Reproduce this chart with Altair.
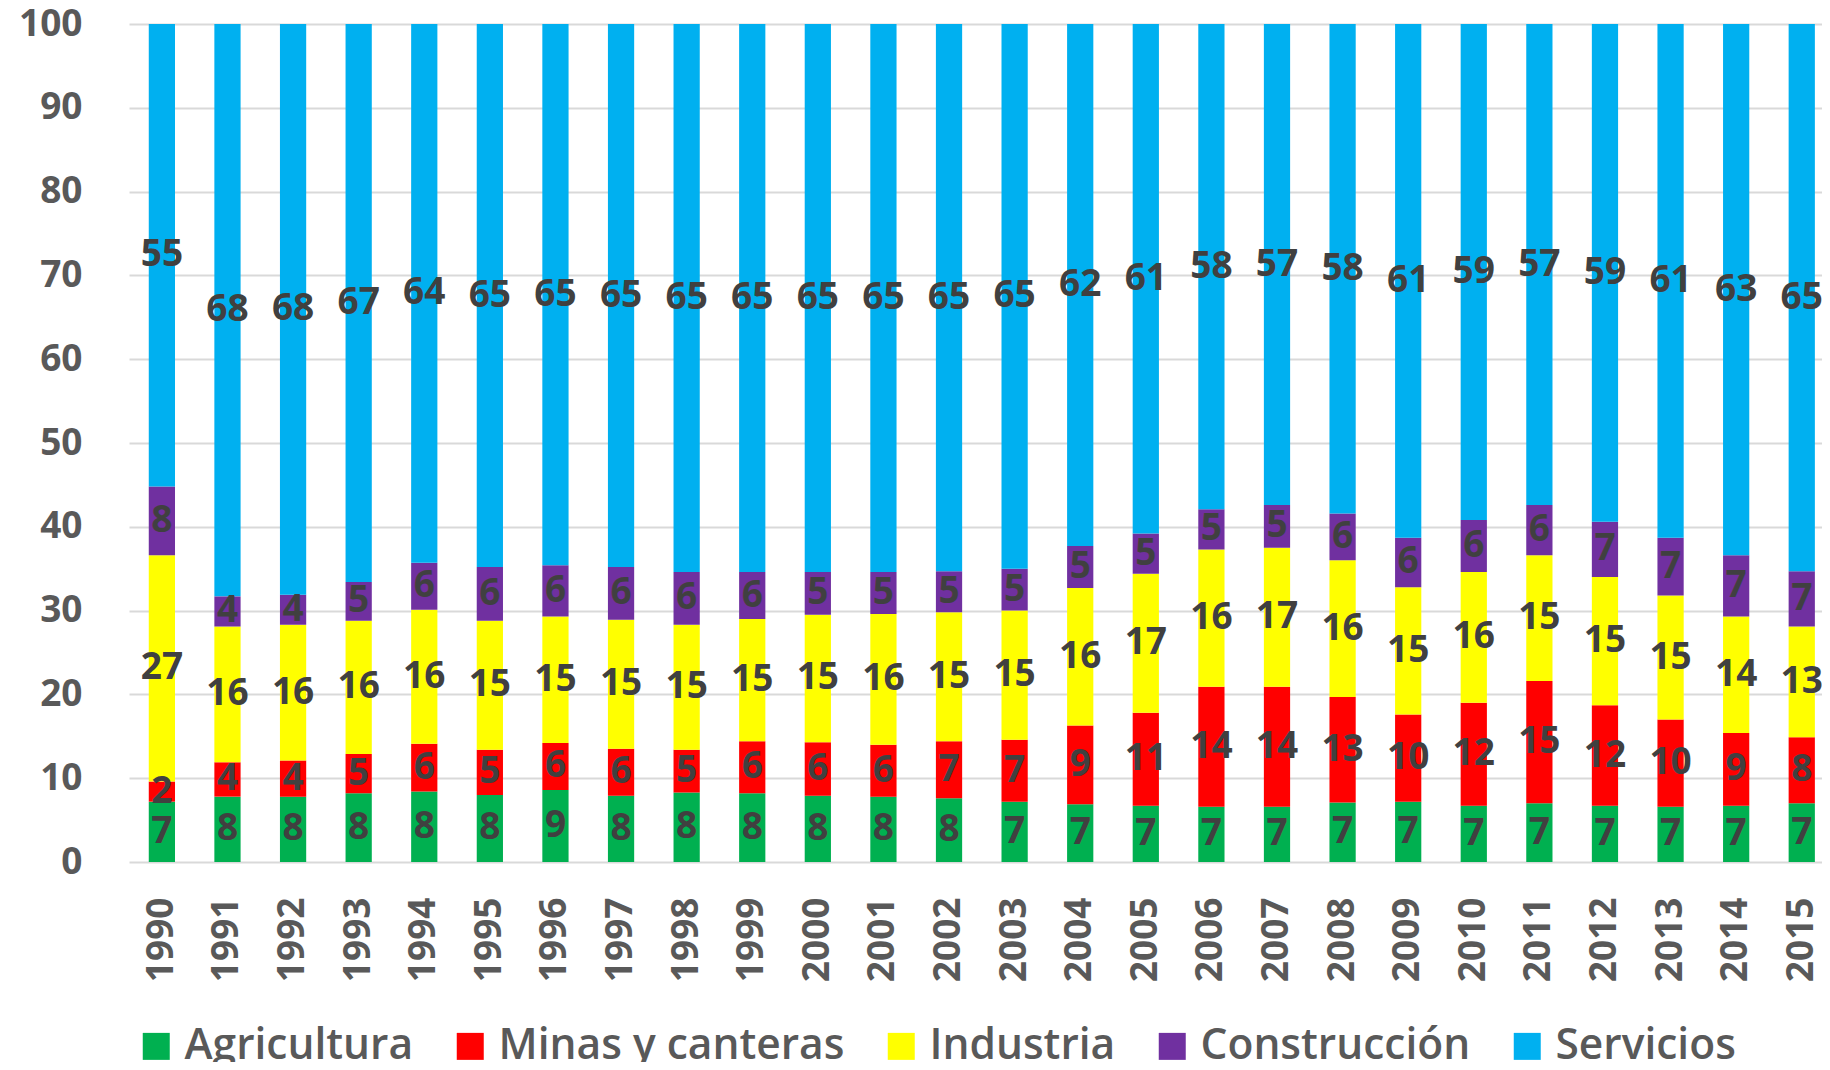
import altair as alt
import pandas as pd

years = [str(y) for y in range(1990, 2016)]
sectors = ["Agricultura", "Minas y canteras", "Industria", "Construcción", "Servicios"]
colors = ["#00B050", "#FF0000", "#FFFF00", "#7030A0", "#00B0F0"]

agricultura = [7.2, 7.8, 7.8, 8.2, 8.4, 8.0, 8.6, 7.9, 8.3, 8.2, 7.9, 7.8, 7.6,
               7.2, 6.9, 6.7, 6.6, 6.6, 7.1, 7.2, 6.7, 7.0, 6.7, 6.6, 6.7, 7.0]
minas = [2.4, 4.1, 4.3, 4.7, 5.7, 5.4, 5.6, 5.6, 5.1, 6.2, 6.4, 6.2, 6.8,
         7.4, 9.4, 11.1, 14.3, 14.3, 12.6, 10.4, 12.3, 14.6, 12.0, 10.4, 8.7, 7.9]
industria = [27.0, 16.2, 16.2, 15.9, 16.0, 15.4, 15.1, 15.4, 14.9, 14.6, 15.2, 15.6, 15.4,
             15.4, 16.4, 16.6, 16.4, 16.6, 16.3, 15.2, 15.6, 15.0, 15.3, 14.8, 13.9, 13.2]
construccion = [8.2, 3.6, 3.6, 4.6, 5.6, 6.4, 6.1, 6.3, 6.3, 5.6, 5.1, 5.0, 4.9,
                5.0, 5.0, 4.8, 4.8, 5.1, 5.6, 5.9, 6.2, 6.0, 6.6, 6.9, 7.3, 6.6]
servicios = [55.2, 68.3, 68.1, 66.6, 64.3, 64.8, 64.6, 64.8, 65.4, 65.4, 65.4, 65.4, 65.3,
             65.0, 62.3, 60.8, 57.9, 57.4, 58.4, 61.3, 59.2, 57.4, 59.4, 61.3, 63.4, 65.3]

series = [agricultura, minas, industria, construccion, servicios]

rows = []
for i, yr in enumerate(years):
    for k, (s, vals) in enumerate(zip(sectors, series)):
        rows.append({"year": yr, "sector": s, "idx": k, "value": vals[i],
                     "label": f"{vals[i]:.0f}"})
df = pd.DataFrame(rows)

FONT = "Open Sans"

base = alt.Chart(df).transform_stack(
    stack="value", groupby=["year"], as_=["y0", "y1"],
    sort=[alt.SortField("idx", order="ascending")]
)

x_enc = alt.X(
    "year:N",
    sort=years,
    title=None,
    scale=alt.Scale(paddingInner=0.6, paddingOuter=0.205, align=0.735),
    axis=alt.Axis(
        labelAngle=270, labelAlign="right", labelBaseline="middle",
        labelPadding=35, labelFont=FONT, labelFontSize=37, labelFontWeight="bold",
        labelColor="#595959", ticks=False, domain=False, grid=False,
        labelOverlap=False,
    ),
)

bars = base.mark_bar().encode(
    x=x_enc,
    y=alt.Y(
        "y0:Q",
        title=None,
        scale=alt.Scale(domain=[0, 100], nice=False),
        axis=alt.Axis(
            values=list(range(0, 101, 10)), labelFont=FONT, labelFontSize=37,
            labelFontWeight="bold", labelColor="#595959", labelPadding=47,
            ticks=False, domain=False, gridColor="#d9d9d9", gridWidth=2,
        ),
    ),
    y2="y1:Q",
    color=alt.Color(
        "sector:N",
        scale=alt.Scale(domain=sectors, range=colors),
        legend=alt.Legend(
            title=None, orient="none", legendX=6, legendY=1001,
            direction="horizontal", symbolType="square", symbolSize=729,
            symbolStrokeWidth=0, labelFont=FONT, labelFontSize=42.5,
            labelFontWeight=600, labelColor="#595959", labelOffset=7,
            columnPadding=35, labelLimit=1000, padding=0,
        ),
    ),
)

text = base.transform_calculate(
    mid="(datum.y0 + datum.y1) / 2"
).mark_text(
    font=FONT, fontSize=37, fontWeight="bold", color="#404040",
    align="center", baseline="middle",
).encode(
    x=alt.X("year:N", sort=years),
    y=alt.Y("mid:Q"),
    text="label:N",
)

chart = alt.layer(bars, text).properties(
    width=1693,
    height=838,
    autosize=alt.AutoSizeParams(type="none"),
    padding={"left": 121, "top": 16, "right": 0, "bottom": 200},
    background="white",
).configure_view(stroke="transparent")

chart.save("out.html", embed_options={"renderer": "svg", "actions": False})
